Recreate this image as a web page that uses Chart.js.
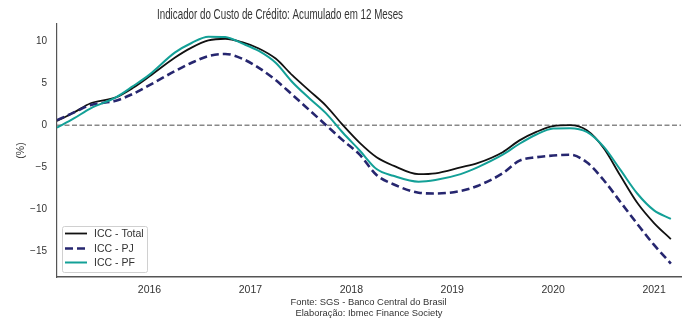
<!DOCTYPE html>
<html>
<head>
<meta charset="utf-8">
<script src="https://cdn.jsdelivr.net/npm/chart.js@4.4.1/dist/chart.umd.min.js"></script>
<style>
  html, body { margin: 0; padding: 0; background: #fff; }
  #wrap { width: 687px; height: 321px; position: relative; }
</style>
</head>
<body>
<div id="wrap"><canvas id="iccChart" width="687" height="321"></canvas></div>
<script>
// monthly points (YYYY-MM)
const dates = ['2015-02','2015-04','2015-06','2015-09','2015-11','2016-01','2016-04','2016-06','2016-08','2016-10','2016-12',
  '2017-02','2017-04','2017-06','2017-08','2017-10','2017-12','2018-02','2018-04','2018-06','2018-09','2018-11',
  '2019-02','2019-04','2019-07','2019-09','2019-11','2020-01','2020-03','2020-05','2020-07','2020-09','2020-11','2021-01','2021-03'];

const iccTotal = [0.5, 1.5, 2.6, 3.3, 4.4, 5.8, 8.0, 9.2, 10.05, 10.25, 9.85,
  9.1, 7.9, 5.9, 4.1, 2.3, 0.0, -2.1, -3.8, -4.8, -5.8, -5.7,
  -5.0, -4.5, -3.2, -1.8, -0.8, -0.1, 0.0, -0.6, -2.7, -6.0, -9.2, -11.6, -13.5];

const iccPJ = [0.6, 1.5, 2.4, 2.9, 3.7, 4.75, 6.4, 7.4, 8.2, 8.45, 7.9,
  6.8, 5.35, 3.6, 1.8, 0.0, -1.8, -3.5, -5.9, -7.0, -8.0, -8.1,
  -7.8, -7.2, -5.7, -4.2, -3.8, -3.6, -3.5, -4.4, -6.5, -9.1, -11.7, -14.2, -16.4];

const iccPF = [-0.3, 0.8, 2.0, 3.3, 4.6, 6.0, 8.6, 9.75, 10.5, 10.45, 9.7,
  8.8, 7.4, 5.1, 3.2, 1.4, -0.9, -3.0, -5.2, -6.0, -6.7, -6.5,
  -5.8, -5.0, -3.5, -2.2, -1.1, -0.4, -0.35, -0.8, -2.55, -5.3, -8.1, -10.1, -11.1];

const seriesNames = ['ICC - Total', 'ICC - PJ', 'ICC - PF'];
const yTicks = [-15, -10, -5, 0, 5, 10];
const xTickLabels = ['2016', '2017', '2018', '2019', '2020', '2021'];
const xRange = [2015 + 1 / 12, 2021.267];
const yRange = [-18, 12];
const zeroLine = [0, 0];

function toYear(d) {
  const p = d.split('-');
  return parseInt(p[0]) + (parseInt(p[1]) - 1) / 12;
}
function pts(vals) { return vals.map((v, i) => ({ x: toYear(dates[i]), y: v })); }

const FONT = "'Liberation Sans', Arial, sans-serif";
const TXT = '#333333';

// title + source notes
const textPlugin = {
  id: 'texts',
  afterDraw(chart) {
    const ctx = chart.ctx;
    ctx.save();
    ctx.fillStyle = TXT;
    ctx.textAlign = 'center';
    ctx.textBaseline = 'alphabetic';
    ctx.font = '14px ' + FONT;
    ctx.fillText('Indicador do Custo de Crédito: Acumulado em 12 Meses', 280, 18.5, 246);
    ctx.font = '9.5px ' + FONT;
    ctx.fillText('Fonte: SGS - Banco Central do Brasil', 368.5, 305, 156);
    ctx.fillText('Elaboração: Ibmec Finance Society', 369, 315.5, 147);
    ctx.restore();
  }
};

// legend box in lower-left of the plot
const legendPlugin = {
  id: 'boxLegend',
  afterDraw(chart) {
    const ctx = chart.ctx;
    const x0 = 62, y0 = 226, w = 85, h = 46;
    ctx.save();
    ctx.fillStyle = 'rgba(255,255,255,0.85)';
    ctx.strokeStyle = '#d0d0d0';
    ctx.lineWidth = 1;
    ctx.beginPath();
    ctx.roundRect(x0 + 0.5, y0 + 0.5, w, h, 2);
    ctx.fill();
    ctx.stroke();
    const rows = [233.5, 248.5, 262.5];
    chart.data.datasets.slice(0, 3).forEach((ds, i) => {
      ctx.strokeStyle = ds.borderColor;
      ctx.lineWidth = ds.borderWidth;
      ctx.setLineDash(ds.borderDash || []);
      ctx.beginPath();
      ctx.moveTo(65, rows[i]);
      ctx.lineTo(87, rows[i]);
      ctx.stroke();
      ctx.setLineDash([]);
      ctx.fillStyle = TXT;
      ctx.font = '10.5px ' + FONT;
      ctx.textAlign = 'left';
      ctx.textBaseline = 'middle';
      ctx.fillText(ds.label, 94, rows[i] + 0.5);
    });
    ctx.restore();
  }
};

const ctx = document.getElementById('iccChart').getContext('2d');
new Chart(ctx, {
  type: 'line',
  data: {
    datasets: [
      { label: seriesNames[0], data: pts(iccTotal), borderColor: '#111111', borderWidth: 1.8, order: 2 },
      { label: seriesNames[1], data: pts(iccPJ), borderColor: '#26266f', borderWidth: 2.6, borderDash: [8, 4], order: 1 },
      { label: seriesNames[2], data: pts(iccPF), borderColor: '#13a097', borderWidth: 2.0, order: 0 },
      { label: 'zero', data: zeroLine.map((v, i) => ({ x: xRange[i], y: v })), borderColor: '#888888',
        borderWidth: 1.4, borderDash: [5, 2.5], order: 3, cubicInterpolationMode: 'default', tension: 0 }
    ]
  },
  options: {
    responsive: false,
    animation: false,
    layout: { padding: { left: 0, right: 6, top: 24, bottom: 0 } },
    elements: {
      point: { radius: 0, hoverRadius: 0 },
      line: { cubicInterpolationMode: 'monotone', fill: false, borderCapStyle: 'butt' }
    },
    scales: {
      x: {
        type: 'linear',
        min: xRange[0],
        max: xRange[1],
        afterBuildTicks: s => { s.ticks = xTickLabels.map(t => ({ value: parseInt(t) })); },
        afterFit: s => { s.height = 44; },
        grid: { display: false, drawTicks: false },
        border: { display: true, color: '#555555', width: 1.5 },
        ticks: {
          padding: 7,
          color: TXT,
          font: { family: FONT, size: 10.5 },
          maxRotation: 0,
          callback: v => String(v)
        }
      },
      y: {
        min: yRange[0],
        max: yRange[1],
        afterBuildTicks: s => { s.ticks = yTicks.map(v => ({ value: v })); },
        afterFit: s => { s.width = 57; },
        grid: { display: false, drawTicks: false },
        border: { display: true, color: '#555555', width: 1.2 },
        title: { display: true, text: '(%)', color: TXT, font: { family: FONT, size: 10.5 }, padding: { top: 15, bottom: 0 } },
        ticks: {
          padding: 10,
          color: TXT,
          font: { family: FONT, size: 10 },
          callback: v => String(v).replace('-', '\u2212')
        }
      }
    },
    plugins: {
      legend: { display: false },
      title: { display: false },
      tooltip: { enabled: false }
    }
  },
  plugins: [textPlugin, legendPlugin]
});
</script>
</body>
</html>
